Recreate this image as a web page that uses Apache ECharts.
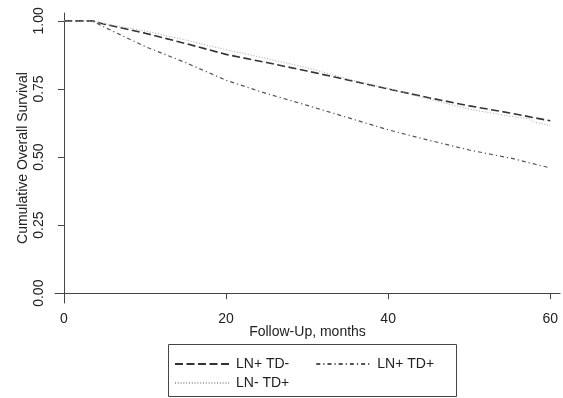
<!DOCTYPE html>
<html>
<head>
<meta charset="utf-8">
<script src="https://cdn.jsdelivr.net/npm/echarts@6/dist/echarts.min.js"></script>
<style>
  html, body { margin: 0; padding: 0; background: #fff; }
  #chart { width: 563px; height: 398px; }
</style>
</head>
<body>
<div id="chart"></div>
<script>
// Kaplan-Meier style survival estimates (months, cumulative survival)
const monthsA = [0, 3.5, 5, 10, 15, 20, 25, 30, 35, 40, 45, 50, 55, 60];
const lnPosTdNeg = [1.0, 1.0, 0.988, 0.955, 0.917, 0.877, 0.847, 0.816, 0.783, 0.750, 0.718, 0.688, 0.662, 0.633];

const monthsB = [0, 3.5, 5, 10, 15, 20, 25, 30, 35, 40, 45, 50, 53, 55, 60];
const lnPosTdPos = [1.0, 1.0, 0.977, 0.906, 0.847, 0.782, 0.733, 0.690, 0.645, 0.600, 0.562, 0.526, 0.508, 0.497, 0.460];

const monthsC = [0, 3.5, 5, 10, 15, 20, 25, 30, 35, 40, 45, 50, 55, 57.5, 58, 60];
const lnNegTdPos = [1.0, 1.0, 0.990, 0.963, 0.930, 0.894, 0.862, 0.828, 0.787, 0.752, 0.713, 0.676, 0.650, 0.640, 0.628, 0.616];

const xTicks = [0, 20, 40, 60];
const yTicks = [0, 0.25, 0.5, 0.75, 1];

const pairs = (xs, ys) => xs.map((x, i) => [x, ys[i]]);

const font = 'Liberation Sans, Arial, Helvetica, sans-serif';
const ink = '#222';
const axisInk = '#444';

// Legend entries show only the line pattern, no marker
const legendBase = {
  padding: 0,
  itemWidth: 56, itemHeight: 14,
  itemStyle: { opacity: 0, borderWidth: 0 },
  textStyle: { fontSize: 14, color: ink, fontFamily: font }
};

const chart = echarts.init(document.getElementById('chart'));
chart.setOption({
  animation: false,
  backgroundColor: '#fff',
  textStyle: { fontFamily: font },
  grid: { left: 55, right: 3, top: 13, bottom: 95, containLabel: false, outerBoundsMode: 'none' },
  xAxis: {
    type: 'value',
    min: -1.1,
    max: 61.2,
    name: 'Follow-Up, months',
    nameLocation: 'middle',
    nameGap: 22,
    nameMoveOverlap: false,
    nameTextStyle: { fontSize: 14, color: ink, fontFamily: font },
    axisLine: { show: true, lineStyle: { color: axisInk, width: 1 } },
    axisTick: { show: true, length: 6, customValues: xTicks, lineStyle: { color: axisInk } },
    axisLabel: { customValues: xTicks, fontSize: 14, color: ink, margin: 9, fontFamily: font },
    splitLine: { show: false }
  },
  yAxis: {
    type: 'value',
    min: -0.036,
    max: 1.029,
    name: 'Cumulative Overall Survival',
    nameLocation: 'middle',
    nameGap: 25,
    nameMoveOverlap: false,
    nameTextStyle: { fontSize: 14, color: ink, fontFamily: font },
    axisLine: { show: true, lineStyle: { color: axisInk, width: 1 } },
    axisTick: { show: true, length: 6, customValues: yTicks, lineStyle: { color: axisInk } },
    axisLabel: {
      customValues: yTicks, rotate: 90, fontSize: 14, color: ink, margin: 9, fontFamily: font,
      formatter: v => v.toFixed(2)
    },
    splitLine: { show: false }
  },
  legend: [
    Object.assign({}, legendBase, {
      data: ['LN+ TD-', 'LN+ TD+'],
      left: 174, top: 357, itemGap: 26
    }),
    Object.assign({}, legendBase, {
      data: ['LN- TD+'],
      left: 174, top: 376
    })
  ],
  graphic: [{
    type: 'rect',
    shape: { x: 168.5, y: 344.5, width: 288, height: 52 },
    style: { fill: 'none', stroke: '#444', lineWidth: 1 },
    silent: true
  }],
  series: [
    {
      name: 'LN+ TD-', type: 'line', symbol: 'none',
      data: pairs(monthsA, lnPosTdNeg),
      lineStyle: { color: '#333', width: 1.6, type: [8, 3.5] },
      itemStyle: { color: '#333' }
    },
    {
      name: 'LN+ TD+', type: 'line', symbol: 'none',
      data: pairs(monthsB, lnPosTdPos),
      lineStyle: { color: '#555', width: 1.2, type: [4, 3, 1.2, 3] },
      itemStyle: { color: '#555' }
    },
    {
      name: 'LN- TD+', type: 'line', symbol: 'none',
      data: pairs(monthsC, lnNegTdPos),
      lineStyle: { color: '#a8a8a8', width: 1, type: [1, 1.8] },
      itemStyle: { color: '#a8a8a8' }
    }
  ]
});
</script>
</body>
</html>
